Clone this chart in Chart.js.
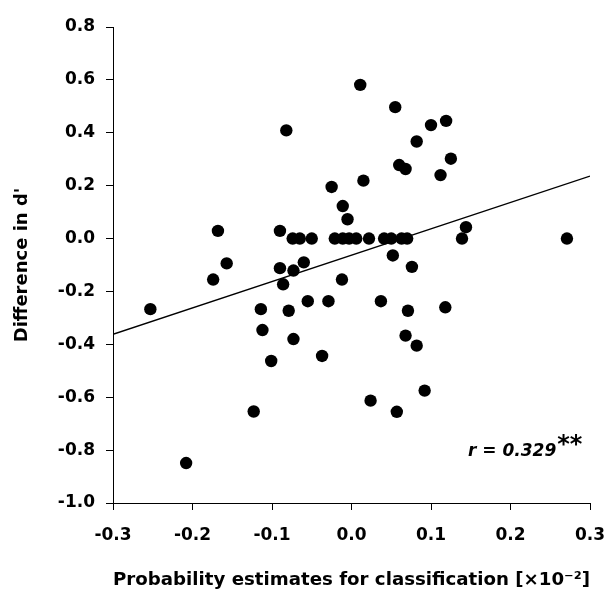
<!DOCTYPE html>
<html lang="en">
<head>
    <meta charset="UTF-8">
    <title>Difference in d' vs probability estimates</title>
    <script src="https://cdn.jsdelivr.net/npm/chart.js"></script>
    <style>
        body { margin: 0; background: #fff; }
        #wrap { width: 606px; height: 596px; }
    </style>
</head>
<body>
    <div id="wrap"><canvas id="scatterChart" width="606" height="596"></canvas></div>
    <script>
        // probability estimates (x) and difference in d' (y)
        var xValues = [-0.253, -0.208, -0.174, -0.168, -0.157, -0.123, -0.114, -0.112, -0.101, -0.090,
                       -0.090, -0.086, -0.082, -0.079, -0.074, -0.073, -0.073, -0.065, -0.060, -0.055,
                       -0.050, -0.037, -0.029, -0.025, -0.021, -0.012, -0.011, -0.011, -0.005, -0.003,
                        0.006,  0.011,  0.015,  0.022,  0.024,  0.037,  0.041,  0.050,  0.052,  0.055,
                        0.057,  0.060,  0.063,  0.068,  0.068,  0.070,  0.071,  0.076,  0.082,  0.082,
                        0.092,  0.100,  0.112,  0.118,  0.119,  0.125,  0.139,  0.144,  0.271];
        var yValues = [-0.267, -0.849, -0.155,  0.029, -0.094, -0.654, -0.267, -0.346, -0.463,  0.029,
                       -0.112, -0.173,  0.409, -0.273,  0.000, -0.121, -0.380,  0.000, -0.090, -0.237,
                        0.000, -0.444, -0.237,  0.195,  0.000, -0.155,  0.123,  0.000,  0.073,  0.000,
                        0.000,  0.581,  0.219,  0.000, -0.613, -0.237,  0.000,  0.000, -0.064,  0.497,
                       -0.655,  0.278,  0.000,  0.263, -0.367,  0.000, -0.273, -0.107,  0.367, -0.405,
                       -0.575,  0.429,  0.240, -0.260,  0.445,  0.302,  0.000,  0.043,  0.000];

        // regression line end points
        var fitX = [-0.3, 0.3];
        var fitY = [-0.362, 0.236];

        var xTicks = [-0.3, -0.2, -0.1, 0.0, 0.1, 0.2, 0.3];
        var yTicks = [-1.0, -0.8, -0.6, -0.4, -0.2, 0.0, 0.2, 0.4, 0.6, 0.8];

        var rText = 'r = 0.329';
        var rStars = '**';

        Chart.defaults.font.family = '"DejaVu Sans", sans-serif';
        Chart.defaults.color = '#000';

        function fmt(v) {
            if (Math.abs(v) < 1e-9) return '0.0';
            return v.toFixed(1);
        }

        // r value in the lower right corner
        var corrLabel = {
            id: 'corrLabel',
            afterDraw: function(chart) {
                var ctx = chart.ctx;
                var xs = chart.scales.x, ys = chart.scales.y;
                var px = xs.getPixelForValue(0.1465);
                var py = ys.getPixelForValue(-0.822);
                ctx.save();
                ctx.fillStyle = '#000';
                ctx.textAlign = 'left';
                ctx.textBaseline = 'alphabetic';
                ctx.font = 'italic bold 17px "DejaVu Sans"';
                ctx.fillText(rText, px, py);
                var w = ctx.measureText(rText).width;
                ctx.font = 'bold 24px "DejaVu Sans"';
                ctx.fillText(rStars, px + w + 1, py - 4);
                ctx.restore();
            }
        };

        var points = xValues.map(function(x, i) { return { x: x, y: yValues[i] }; });
        var fitLine = fitX.map(function(x, i) { return { x: x, y: fitY[i] }; });

        var axisGrid = {
            display: true,
            drawOnChartArea: false,
            drawTicks: true,
            tickLength: 7,
            color: '#000',
            lineWidth: 1
        };

        new Chart(document.getElementById('scatterChart'), {
            type: 'scatter',
            data: {
                datasets: [{
                    data: points,
                    backgroundColor: '#000',
                    borderWidth: 0,
                    pointRadius: 6.2
                }, {
                    type: 'line',
                    data: fitLine,
                    borderColor: '#000',
                    borderWidth: 1.3,
                    pointRadius: 0,
                    fill: false
                }]
            },
            options: {
                responsive: false,
                animation: false,
                layout: { padding: { top: 27, right: 16, left: 0, bottom: 0 } },
                plugins: {
                    legend: { display: false },
                    tooltip: { enabled: false }
                },
                scales: {
                    x: {
                        type: 'linear',
                        min: -0.3,
                        max: 0.3,
                        afterBuildTicks: function(scale) {
                            scale.ticks = xTicks.map(function(v) { return { value: v }; });
                        },
                        afterFit: function(scale) {
                            scale.height = 93;
                            scale.paddingLeft = 0;
                            scale.paddingRight = 0;
                        },
                        grid: axisGrid,
                        border: { display: true, color: '#000', width: 1 },
                        ticks: {
                            padding: 15,
                            maxRotation: 0,
                            font: { size: 17, weight: 'bold' },
                            callback: function(v) { return fmt(v); }
                        },
                        title: {
                            display: true,
                            text: 'Probability estimates for classification [×10⁻²]',
                            font: { size: 18.5, weight: 'bold' },
                            padding: { top: 0, bottom: 5 }
                        }
                    },
                    y: {
                        type: 'linear',
                        min: -1.0,
                        max: 0.8,
                        afterBuildTicks: function(scale) {
                            scale.ticks = yTicks.map(function(v) { return { value: v }; });
                        },
                        afterFit: function(scale) {
                            scale.width = 113;
                            scale.paddingTop = 0;
                            scale.paddingBottom = 0;
                        },
                        grid: axisGrid,
                        border: { display: true, color: '#000', width: 1 },
                        ticks: {
                            padding: 11,
                            font: { size: 17, weight: 'bold' },
                            callback: function(v) { return fmt(v); }
                        },
                        title: {
                            display: true,
                            text: "Difference in d'",
                            font: { size: 18, weight: 'bold' },
                            padding: { top: 12, bottom: 0 }
                        }
                    }
                }
            },
            plugins: [corrLabel]
        });
    </script>
</body>
</html>
